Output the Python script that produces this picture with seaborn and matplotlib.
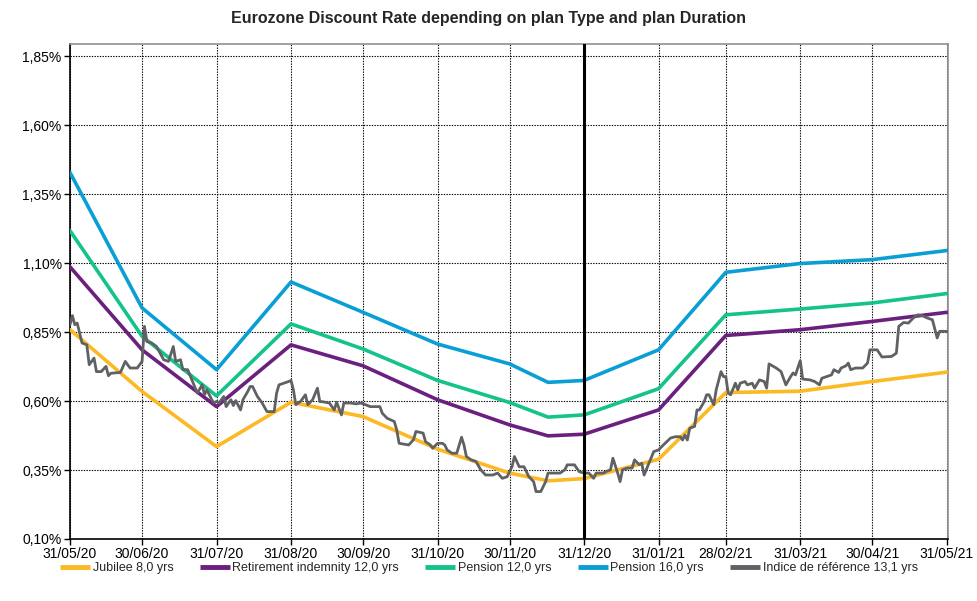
import numpy as np
import pandas as pd
import matplotlib
matplotlib.use("Agg")
import matplotlib.pyplot as plt
import matplotlib.dates as mdates
from matplotlib.ticker import FuncFormatter, FixedLocator
import seaborn as sns

# ---------------- data ----------------
curve_dates = ["2020-05-31", "2020-06-30", "2020-07-31", "2020-08-31", "2020-09-30",
               "2020-10-31", "2020-11-30", "2020-12-16", "2020-12-31", "2021-01-31",
               "2021-02-28", "2021-03-31", "2021-04-30", "2021-05-31"]
jubilee_8 = [0.859, 0.635, 0.435, 0.596, 0.544, 0.426, 0.339, 0.311, 0.319, 0.389,
             0.631, 0.636, 0.671, 0.705]
retirement_12 = [1.087, 0.786, 0.580, 0.804, 0.728, 0.605, 0.514, 0.474, 0.480, 0.568,
                 0.838, 0.859, 0.889, 0.922]
pension_12 = [1.218, 0.835, 0.619, 0.880, 0.789, 0.675, 0.595, 0.542, 0.550, 0.645,
              0.913, 0.934, 0.956, 0.990]
pension_16 = [1.429, 0.938, 0.714, 1.032, 0.922, 0.807, 0.735, 0.668, 0.675, 0.786,
              1.067, 1.099, 1.113, 1.146]

index_start = "2020-05-31"
index_day = [0, 1, 2, 3, 4, 5, 7, 8, 10, 11, 13, 15, 16, 17, 21, 23, 25, 28, 30, 31,
             32, 34, 36, 39, 41, 43, 44, 46, 47, 49, 51, 53, 55, 56, 57, 59, 60, 61, 62, 64,
             65, 67, 68, 69, 71, 72, 74, 75, 76, 78, 80, 82, 85, 86, 87, 91, 92, 93, 94, 96,
             98, 99, 101, 103, 104, 105, 108, 110, 111, 113, 114, 117, 119, 121, 123, 125, 129, 130, 132, 135,
             136, 137, 141, 143, 144, 147, 148, 150, 151, 153, 155, 156, 157, 159, 161, 163, 164, 165, 167, 169,
             171, 173, 176, 178, 180, 182, 184, 185, 187, 189, 191, 193, 194, 196, 198, 199, 202, 204, 206, 207,
             210, 212, 214, 216, 218, 219, 222, 223, 225, 226, 228, 229, 230, 232, 234, 235, 237, 238, 239, 241,
             243, 245, 247, 250, 252, 254, 255, 256, 257, 258, 260, 261, 262, 264, 265, 266, 268, 269, 271, 272,
             273, 274, 275, 277, 278, 279, 281, 282, 284, 285, 287, 289, 290, 291, 294, 296, 297, 298, 300, 301,
             302, 304, 305, 308, 310, 312, 313, 315, 317, 318, 320, 321, 323, 324, 325, 327, 330, 332, 333, 336,
             338, 342, 344, 345, 347, 349, 351, 353, 355, 357, 359, 361, 362, 364, 365]
index_ref = [0.877, 0.910, 0.877, 0.883, 0.847, 0.811, 0.804, 0.732, 0.756, 0.707, 0.707, 0.726, 0.692, 0.701, 0.704, 0.744, 0.720, 0.720, 0.744, 0.871,
             0.816, 0.811, 0.798, 0.750, 0.744, 0.798, 0.744, 0.750, 0.714, 0.714, 0.671, 0.629, 0.659, 0.623, 0.641, 0.605, 0.593, 0.599, 0.593, 0.617,
             0.580, 0.605, 0.584, 0.602, 0.568, 0.605, 0.635, 0.653, 0.653, 0.617, 0.593, 0.562, 0.562, 0.629, 0.659, 0.671, 0.675, 0.641, 0.587, 0.599,
             0.623, 0.587, 0.605, 0.647, 0.598, 0.598, 0.593, 0.568, 0.596, 0.550, 0.593, 0.593, 0.590, 0.593, 0.587, 0.580, 0.580, 0.556, 0.538, 0.526,
             0.496, 0.447, 0.441, 0.460, 0.490, 0.484, 0.453, 0.441, 0.429, 0.447, 0.447, 0.441, 0.423, 0.411, 0.411, 0.469, 0.441, 0.399, 0.387, 0.381,
             0.351, 0.332, 0.332, 0.339, 0.320, 0.326, 0.362, 0.399, 0.362, 0.362, 0.326, 0.308, 0.272, 0.272, 0.308, 0.339, 0.339, 0.339, 0.351, 0.369,
             0.369, 0.344, 0.339, 0.339, 0.320, 0.339, 0.339, 0.344, 0.351, 0.393, 0.339, 0.308, 0.351, 0.357, 0.357, 0.387, 0.369, 0.375, 0.332, 0.375,
             0.417, 0.423, 0.441, 0.466, 0.471, 0.471, 0.459, 0.477, 0.459, 0.502, 0.508, 0.568, 0.568, 0.598, 0.623, 0.623, 0.587, 0.641, 0.707, 0.689,
             0.689, 0.629, 0.623, 0.665, 0.641, 0.665, 0.671, 0.659, 0.665, 0.647, 0.677, 0.671, 0.647, 0.735, 0.720, 0.707, 0.683, 0.659, 0.689, 0.702,
             0.695, 0.747, 0.680, 0.677, 0.671, 0.659, 0.683, 0.689, 0.695, 0.714, 0.704, 0.720, 0.728, 0.738, 0.714, 0.720, 0.720, 0.738, 0.786, 0.786,
             0.760, 0.762, 0.774, 0.871, 0.885, 0.883, 0.901, 0.913, 0.909, 0.901, 0.895, 0.829, 0.853, 0.853, 0.853]

tick_dates = ["2020-05-31", "2020-06-30", "2020-07-31", "2020-08-31", "2020-09-30",
              "2020-10-31", "2020-11-30", "2020-12-31", "2021-01-31", "2021-02-28",
              "2021-03-31", "2021-04-30", "2021-05-31"]
y_ticks = [0.10, 0.35, 0.60, 0.85, 1.10, 1.35, 1.60, 1.85]
year_end = "2020-12-31"

labels = ["Jubilee 8,0 yrs", "Retirement indemnity 12,0 yrs", "Pension 12,0 yrs",
          "Pension 16,0 yrs", "Indice de référence 13,1 yrs"]
colors = ["#FDB924", "#6B1F7E", "#14C28C", "#0A9FD4", "#5F6165"]

# ---------------- frames ----------------
cd = pd.to_datetime(curve_dates)
df_curves = pd.concat([
    pd.DataFrame({"date": cd, "rate": vals, "series": lab})
    for vals, lab in zip([jubilee_8, retirement_12, pension_12, pension_16], labels[:4])
])
df_index = pd.DataFrame({
    "date": pd.Timestamp(index_start) + pd.to_timedelta(index_day, unit="D"),
    "rate": index_ref, "series": labels[4]})

# ---------------- plot ----------------
sns.set_style("white")
plt.rcParams["font.family"] = ["Liberation Sans", "DejaVu Sans"]

fig = plt.figure(figsize=(9.78, 6.01), dpi=100)
ax = fig.add_axes([70 / 978, 1 - 539 / 601, (948 - 70) / 978, (539 - 44) / 601])

for lab, col in zip(labels[:4], colors[:4]):
    sns.lineplot(data=df_curves[df_curves["series"] == lab], x="date", y="rate",
                 color=col, linewidth=2.6, ax=ax, label=lab, zorder=3)
sns.lineplot(data=df_index, x="date", y="rate", color=colors[4], linewidth=2.0,
             ax=ax, label=labels[4], zorder=4)

ax.axvline(pd.Timestamp(year_end), color="black", linewidth=2.2, zorder=5)

ax.set_xlim(pd.Timestamp("2020-05-31"), pd.Timestamp("2021-05-31") + pd.Timedelta(hours=12))
ax.set_ylim(0.10, 1.895)
ax.xaxis.set_major_locator(FixedLocator(mdates.date2num(pd.to_datetime(tick_dates))))
ax.xaxis.set_major_formatter(mdates.DateFormatter("%d/%m/%y"))
ax.set_yticks(y_ticks)
ax.yaxis.set_major_formatter(FuncFormatter(lambda v, p: f"{v:.2f}%".replace(".", ",")))

ax.grid(True, color="black", linestyle=(0, (1.2, 1.2)), linewidth=0.8)
ax.set_axisbelow(True)
ax.set_xlabel("")
ax.set_ylabel("")
ax.tick_params(axis="both", labelsize=10, length=4, width=1, direction="out",
               colors="black", bottom=True, left=True, pad=2)
for s in ["left", "bottom"]:
    ax.spines[s].set_color("black")
    ax.spines[s].set_linewidth(1.2)
for s in ["top", "right"]:
    ax.spines[s].set_color("#909090")
    ax.spines[s].set_linewidth(1.2)

fig.text(0.5, 1 - 18 / 601, "Eurozone Discount Rate depending on plan Type and plan Duration",
         ha="center", va="center", fontsize=11.5, fontweight="bold")

if ax.get_legend():
    ax.get_legend().remove()
handles, labs = ax.get_legend_handles_labels()
leg = fig.legend(handles, labs, loc="center", bbox_to_anchor=(0.5, 1 - 568 / 601), ncol=5,
                 frameon=False, fontsize=9, handlelength=2.4, handletextpad=0.2,
                 columnspacing=2.1)
for h in leg.get_lines():
    h.set_linewidth(3.5)
    h.set_solid_capstyle("butt")

fig.savefig("out.png", dpi=100)
